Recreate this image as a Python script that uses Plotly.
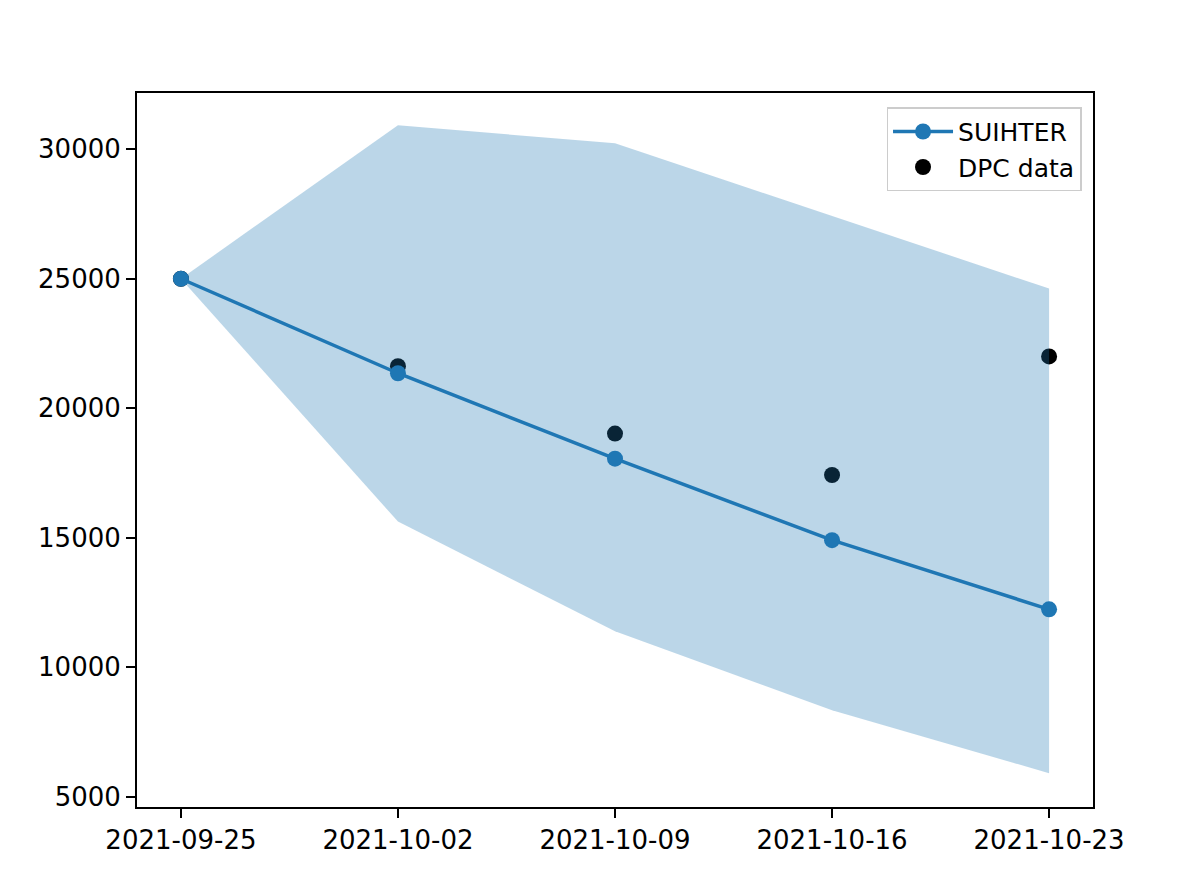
import plotly.graph_objects as go

# dates of the weekly forecast
dates = ["2021-09-25", "2021-10-02", "2021-10-09", "2021-10-16", "2021-10-23"]

suihter = [25000, 21350, 18050, 14900, 12230]
dpc_data = [25000, 21620, 19020, 17420, 22000]
band_upper = [25000, 30930, 30230, 27430, 24620]
band_lower = [25000, 15620, 11380, 8330, 5900]

blue = "#1f77b4"
font = dict(family="DejaVu Sans", size=26, color="black")

fig = go.Figure()

# DPC points first, the band is drawn over them
fig.add_trace(go.Scatter(x=dates, y=dpc_data, mode="markers", name="DPC data",
                         marker=dict(color="black", size=16), legendrank=2))
fig.add_trace(go.Scatter(x=dates, y=band_upper, mode="lines", line=dict(width=0),
                         showlegend=False, hoverinfo="skip"))
fig.add_trace(go.Scatter(x=dates, y=band_lower, mode="lines", line=dict(width=0),
                         fill="tonexty", fillcolor="rgba(31,119,180,0.3)",
                         showlegend=False, hoverinfo="skip"))
fig.add_trace(go.Scatter(x=dates, y=suihter, mode="lines+markers", name="SUIHTER",
                         line=dict(color=blue, width=3.5),
                         marker=dict(color=blue, size=16), legendrank=1))

fig.update_layout(
    width=1196, height=887,
    margin=dict(l=129, r=111, t=85, b=88),
    plot_bgcolor="white", paper_bgcolor="white",
    font=font,
    showlegend=True,
    legend=dict(x=0.988, y=0.98, xanchor="right", yanchor="top", traceorder="normal",
                bgcolor="rgba(255,255,255,0.8)", bordercolor="#cccccc", borderwidth=1.5,
                font=dict(family="DejaVu Sans", size=25, color="black"),
                itemsizing="trace", itemwidth=60, tracegroupgap=8),
)
fig.update_xaxes(type="date", range=["2021-09-23 14:00", "2021-10-24 10:00"],
                 tickvals=dates, tickformat="%Y-%m-%d",
                 showgrid=False, zeroline=False,
                 showline=True, linecolor="black", linewidth=2, mirror=True,
                 ticks="outside", ticklen=9, tickwidth=2, tickcolor="black")
fig.update_yaxes(range=[4595, 32174], tickvals=[5000, 10000, 15000, 20000, 25000, 30000],
                 tickformat="d",
                 showgrid=False, zeroline=False,
                 showline=True, linecolor="black", linewidth=2, mirror=True,
                 ticks="outside", ticklen=9, tickwidth=2, tickcolor="black")

fig.write_html("out.html")
